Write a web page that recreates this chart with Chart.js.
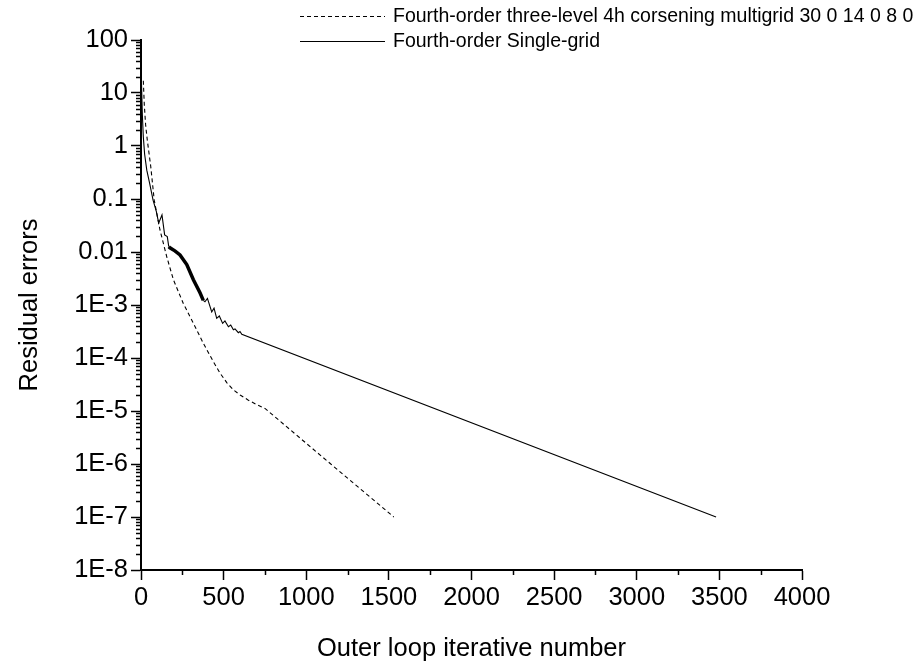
<!DOCTYPE html>
<html>
<head>
<meta charset="utf-8">
<script src="https://cdn.jsdelivr.net/npm/chart.js@4.4.1/dist/chart.umd.min.js"></script>
<style>
  html, body { margin: 0; padding: 0; background: #fff; }
  #wrap { width: 920px; height: 662px; }
</style>
</head>
<body>
<div id="wrap"><canvas id="residualChart" width="920" height="662"></canvas></div>
<script>
// multigrid run (dashed)
const multigridIters = [14, 20, 28, 38, 59, 80, 115, 156, 196, 256, 317, 377, 438, 478, 520, 560, 600, 650, 700, 750, 1145, 1530];
const multigridErrors = [17, 6, 2.5, 1.3, 0.41, 0.095, 0.026, 0.0081, 0.003, 0.00107, 4.5e-4, 1.9e-4, 8.5e-5, 5.2e-5, 3.4e-5, 2.5e-5, 2.0e-5, 1.6e-5, 1.32e-5, 1.12e-5, 1.02e-6, 1e-7];

// single-grid run (solid)
const singleIters = [3, 8, 14, 22, 35, 52, 73, 93, 107, 127, 143, 159, 168, 175, 205, 236, 277, 317, 357, 377,
    387, 402, 428, 442, 458, 474, 494, 508, 529, 543, 559, 569, 589, 599, 610, 3480];
const singleErrors = [15, 4, 1.5, 0.7, 0.35, 0.2, 0.095, 0.058, 0.035, 0.05, 0.021, 0.0195, 0.0126, 0.012, 0.0105, 0.0088, 0.0058, 0.003, 0.0017, 0.00122,
    1.15e-3, 1.33e-3, 7.4e-4, 8.7e-4, 5.6e-4, 6.2e-4, 4.5e-4, 5.0e-4, 3.9e-4, 4.2e-4, 3.4e-4, 3.55e-4, 3.0e-4, 3.16e-4, 2.8e-4, 1e-7];

const seriesLabels = ['Fourth-order three-level 4h corsening multigrid 30 0 14 0 8 0', 'Fourth-order Single-grid'];

const xTickValues = [0, 500, 1000, 1500, 2000, 2500, 3000, 3500, 4000];
const xTickLabels = ['0', '500', '1000', '1500', '2000', '2500', '3000', '3500', '4000'];
const yTickValues = [1e-8, 1e-7, 1e-6, 1e-5, 1e-4, 1e-3, 0.01, 0.1, 1, 10, 100];
const yTickLabels = ['1E-8', '1E-7', '1E-6', '1E-5', '1E-4', '1E-3', '0.01', '0.1', '1', '10', '100'];

const FONT = 'Liberation Sans, Arial, sans-serif';

function toPoints(xs, ys) {
    return xs.map((x, i) => ({ x: x, y: ys[i] }));
}

// minor ticks + legend, drawn with the chart's own scales
const extras = {
    id: 'extras',
    afterDraw(chart) {
        const ctx = chart.ctx;
        const xs = chart.scales.x, ys = chart.scales.y;
        ctx.save();
        ctx.strokeStyle = '#000';
        ctx.lineWidth = 1.5;
        // y minor ticks (2..9 in each decade)
        for (let d = 0; d < yTickValues.length - 1; d++) {
            for (let m = 2; m <= 9; m++) {
                const py = Math.round(ys.getPixelForValue(yTickValues[d] * m)) + 0.5;
                ctx.beginPath();
                ctx.moveTo(xs.left - 5, py);
                ctx.lineTo(xs.left, py);
                ctx.stroke();
            }
        }
        // x minor ticks (every 250)
        for (let i = 0; i < xTickValues.length - 1; i++) {
            const px = Math.round(xs.getPixelForValue((xTickValues[i] + xTickValues[i + 1]) / 2)) + 0.5;
            ctx.beginPath();
            ctx.moveTo(px, ys.bottom);
            ctx.lineTo(px, ys.bottom + 5);
            ctx.stroke();
        }
        // legend
        ctx.font = '19.5px ' + FONT;
        ctx.fillStyle = '#000';
        ctx.textBaseline = 'middle';
        const rows = [16, 41];
        chart.data.datasets.forEach((ds, i) => {
            ctx.lineWidth = 1;
            ctx.setLineDash(ds.borderDash || []);
            ctx.beginPath();
            ctx.moveTo(300, rows[i] + 0.5);
            ctx.lineTo(385, rows[i] + 0.5);
            ctx.stroke();
            ctx.setLineDash([]);
            ctx.fillText(ds.label, 393, rows[i] + 1);
        });
        ctx.restore();
    }
};

const ctx = document.getElementById('residualChart').getContext('2d');
const residualChart = new Chart(ctx, {
    type: 'line',
    data: {
        datasets: [{
            label: seriesLabels[0],
            data: toPoints(multigridIters, multigridErrors),
            borderColor: '#000',
            borderWidth: 1.1,
            borderDash: [4, 3],
            pointRadius: 0,
            tension: 0
        }, {
            label: seriesLabels[1],
            data: toPoints(singleIters, singleErrors),
            borderColor: '#000',
            borderWidth: 1.1,
            pointRadius: 0,
            tension: 0,
            segment: {
                // the oscillating stretch shows up as a thick band
                borderWidth: c => (c.p0.parsed.x >= 168 && c.p1.parsed.x <= 377) ? 3.5 : 1.1
            }
        }]
    },
    options: {
        responsive: false,
        animation: false,
        devicePixelRatio: 1,
        layout: { padding: { top: 40, right: 118, left: 0, bottom: 0 } },
        plugins: {
            legend: { display: false },
            tooltip: { enabled: false }
        },
        scales: {
            x: {
                type: 'linear',
                min: 0,
                max: 4000,
                afterBuildTicks: s => { s.ticks = xTickValues.map(v => ({ value: v })); },
                afterFit: s => { s.height = 92; },
                ticks: {
                    color: '#000', font: { family: FONT, size: 25.5 }, padding: 3, maxRotation: 0,
                    callback: (v, i) => xTickLabels[i]
                },
                grid: { drawOnChartArea: false, tickLength: 10, tickWidth: 1.5, tickColor: '#000' },
                border: { color: '#000', width: 2 },
                title: {
                    display: true, text: 'Outer loop iterative number', color: '#000',
                    font: { family: FONT, size: 25.5, lineHeight: 1 }, padding: { top: 4, bottom: 0 }
                }
            },
            y: {
                type: 'logarithmic',
                min: 1e-8,
                max: 100,
                afterBuildTicks: s => { s.ticks = yTickValues.map(v => ({ value: v })); },
                afterFit: s => { s.width = 141; },
                ticks: {
                    color: '#000',
                    font: { family: FONT, size: 25.5 },
                    padding: 3,
                    callback: (v, i) => yTickLabels[i]
                },
                grid: { drawOnChartArea: false, tickLength: 10, tickWidth: 1.5, tickColor: '#000' },
                border: { color: '#000', width: 2 },
                title: {
                    display: true, text: 'Residual errors', color: '#000',
                    font: { family: FONT, size: 25.5, lineHeight: 1 }, padding: { top: 17, bottom: 0 }
                }
            }
        }
    },
    plugins: [extras]
});
</script>
</body>
</html>
